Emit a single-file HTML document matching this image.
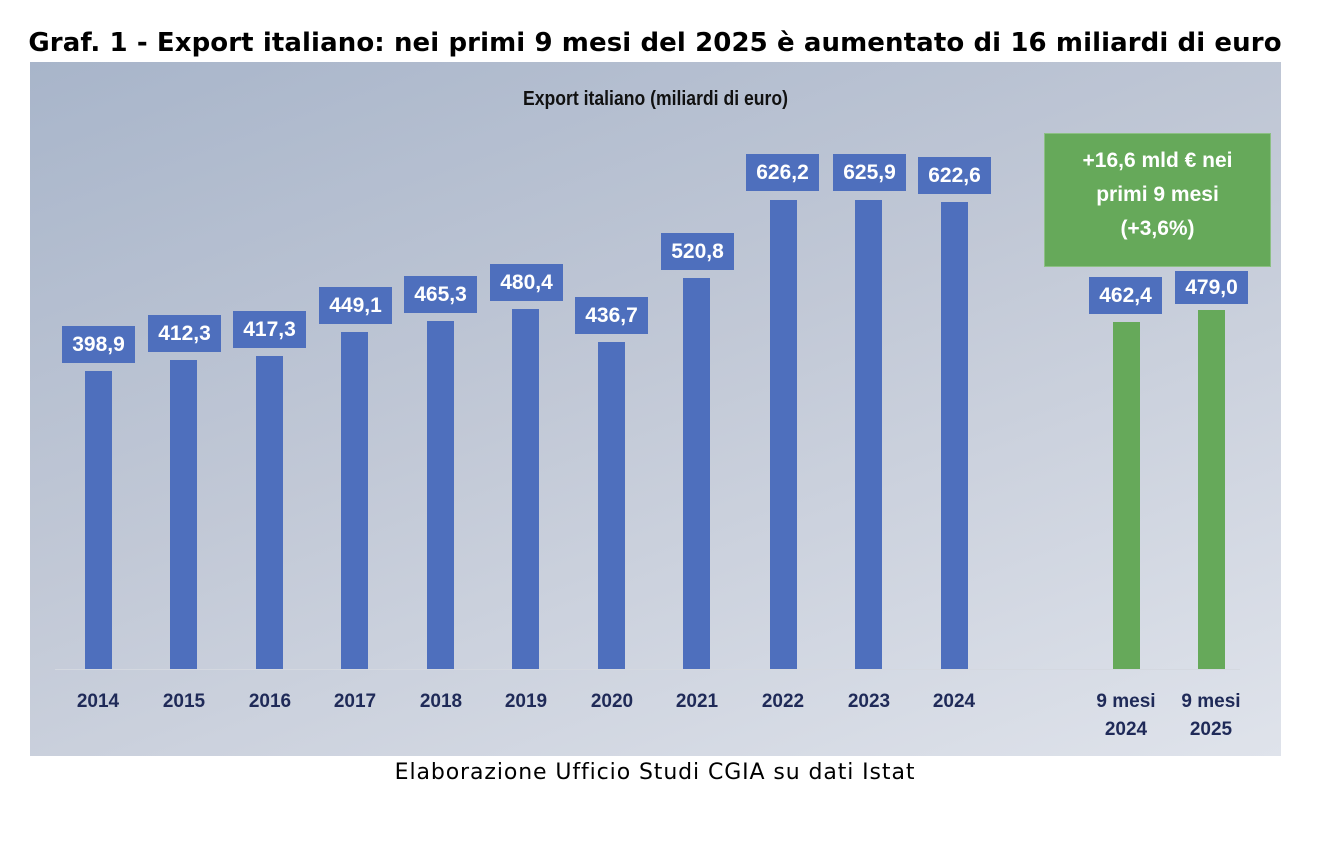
<!DOCTYPE html>
<html><head><meta charset="utf-8"><style>
body{margin:0;width:1328px;height:860px;background:#fff;position:relative;overflow:hidden;font-family:"Liberation Sans",sans-serif}
.t{position:absolute;left:0;width:1310px;text-align:center;top:28px;font-weight:bold;font-size:26px;color:#000;white-space:nowrap;font-family:"DejaVu Sans",sans-serif;letter-spacing:0.1px}
.p{position:absolute;left:30px;top:62px;width:1251px;height:694px;background:linear-gradient(160deg,#a8b5ca 0%,#c1c8d6 45%,#dfe3eb 100%)}
.st{position:absolute;left:0;width:1251px;top:26px;text-align:center;font-weight:bold;font-size:20px;color:#111;transform:scaleX(.88)}
.ax{position:absolute;left:25px;width:1185px;top:607px;height:1px;background:#d4d8e0}
.b{position:absolute;width:27px;background:#4e6fbd}
.g{background:#66a95a}
.l{position:absolute;width:73px;height:37px;background:#4e6fbd;color:#fff;font-weight:bold;font-size:21px;text-align:center;line-height:37px}
.x{position:absolute;width:100px;text-align:center;font-weight:bold;font-size:19px;color:#1f2a58;top:626px;line-height:28px}
.gb{position:absolute;left:1014px;top:71px;width:227px;height:134px;background:#66a95a;color:#fff;font-weight:bold;font-size:21px;text-align:center;line-height:34px;box-sizing:border-box;padding-top:10px;border:1px solid #8cc084}
.f{position:absolute;left:0;width:1310px;text-align:center;top:760px;font-size:22px;letter-spacing:0.9px;color:#000;font-family:"DejaVu Sans",sans-serif}
</style></head><body>
<div class="t">Graf. 1 - Export italiano: nei primi 9 mesi del 2025 è aumentato di 16 miliardi di euro</div>
<div class="p">
<div class="st">Export italiano (miliardi di euro)</div>
<div class="ax"></div>
<div class="b" style="left:55px;top:309px;height:298px"></div><div class="l" style="left:32px;top:264px">398,9</div><div class="x" style="left:18px">2014</div>
<div class="b" style="left:140px;top:298px;height:309px"></div><div class="l" style="left:118px;top:253px">412,3</div><div class="x" style="left:104px">2015</div>
<div class="b" style="left:226px;top:294px;height:313px"></div><div class="l" style="left:203px;top:249px">417,3</div><div class="x" style="left:190px">2016</div>
<div class="b" style="left:311px;top:270px;height:337px"></div><div class="l" style="left:289px;top:225px">449,1</div><div class="x" style="left:275px">2017</div>
<div class="b" style="left:397px;top:259px;height:348px"></div><div class="l" style="left:374px;top:214px">465,3</div><div class="x" style="left:361px">2018</div>
<div class="b" style="left:482px;top:247px;height:360px"></div><div class="l" style="left:460px;top:202px">480,4</div><div class="x" style="left:446px">2019</div>
<div class="b" style="left:568px;top:280px;height:327px"></div><div class="l" style="left:545px;top:235px">436,7</div><div class="x" style="left:532px">2020</div>
<div class="b" style="left:653px;top:216px;height:391px"></div><div class="l" style="left:631px;top:171px">520,8</div><div class="x" style="left:617px">2021</div>
<div class="b" style="left:740px;top:138px;height:469px"></div><div class="l" style="left:716px;top:92px">626,2</div><div class="x" style="left:703px">2022</div>
<div class="b" style="left:825px;top:138px;height:469px"></div><div class="l" style="left:803px;top:92px">625,9</div><div class="x" style="left:789px">2023</div>
<div class="b" style="left:911px;top:140px;height:467px"></div><div class="l" style="left:888px;top:95px">622,6</div><div class="x" style="left:874px">2024</div>
<div class="gb">+16,6 mld € nei<br>primi 9 mesi<br>(+3,6%)</div>
<div class="b g" style="left:1083px;top:260px;height:347px"></div><div class="l g" style="left:1059px;top:215px">462,4</div><div class="x" style="left:1046px">9 mesi<br>2024</div>
<div class="b g" style="left:1168px;top:248px;height:359px"></div><div class="l g" style="left:1145px;top:209px;height:33px;line-height:33px">479,0</div><div class="x" style="left:1131px">9 mesi<br>2025</div>
</div>
<div class="f">Elaborazione Ufficio Studi CGIA su dati Istat</div>
</body></html>
